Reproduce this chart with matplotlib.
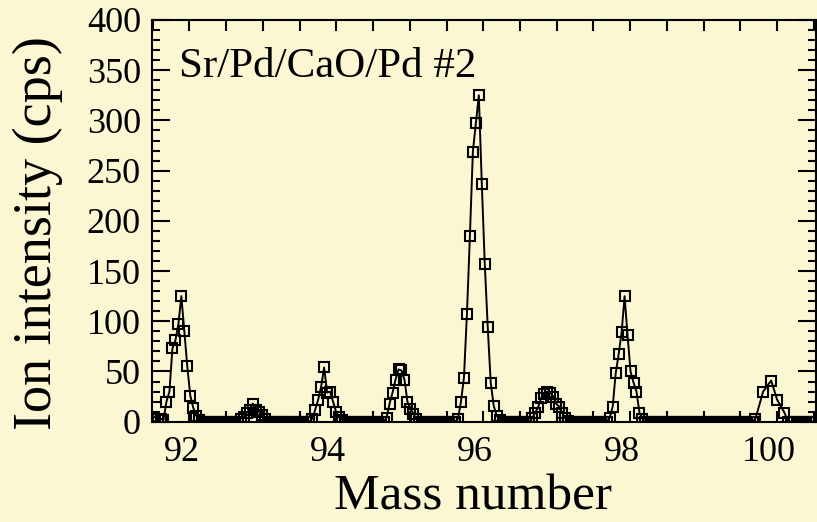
import numpy as np
import matplotlib
matplotlib.use("Agg")
import matplotlib.pyplot as plt
from matplotlib.ticker import MultipleLocator
from matplotlib.transforms import ScaledTranslation

# Mass scan: evenly stepped scan, then a coarser tail near 100
scan_start = 91.525
scan_step = 0.0405
scan_counts = [
    0, 3, 3, 2, 20, 30, 73, 81, 97, 125, 90, 55, 26, 14, 6, 2,
    0, 0, 0, 0, 0, 0, 0, 0, 0, 0, 0, 0, 0,
    3, 5, 9, 12, 18, 12, 10, 7, 3,
    0, 0, 0, 0, 0, 0, 0, 0, 0, 0, 0, 0, 0, 0, 0,
    3, 12, 22, 35, 54, 29, 30, 20, 10, 5, 2,
    0, 0, 0, 0, 0, 0, 0, 0, 0, 0, 0, 0, 0, 0,
    4, 18, 29, 42, 52, 51, 42, 20, 13, 8, 3,
    0, 0, 0, 0, 0, 0, 0, 0, 0, 0, 0, 0, 0,
    3, 20, 44, 107, 185, 269, 297, 325, 237, 157, 94, 39, 16, 6, 2,
    0, 0, 0, 0, 0, 0, 0, 0, 0, 0,
    4, 9, 15, 24, 28, 30, 29, 25, 18, 15, 9, 4, 1,
    0, 0, 0, 0, 0, 0, 0, 0, 0, 0, 0, 0, 0,
    4, 15, 48, 67, 89, 125, 86, 50, 39, 30, 9, 3,
    0, 0, 0, 0, 0, 0, 0, 0, 0, 0, 0, 0, 0, 0, 0, 0, 0, 0, 0, 0,
    0, 0, 0, 0, 0, 0, 0, 0, 0, 0, 0, 0, 0, 0, 0, 0, 0,
    3,
]
tail_mass = [99.81, 99.92, 100.00, 100.10, 100.15, 100.19, 100.23, 100.27,
             100.31, 100.35, 100.39, 100.43, 100.47, 100.51]
tail_counts = [30, 41, 22, 9, 0, 0, 0, 0, 0, 0, 0, 0, 0, 0]

sample_label = "Sr/Pd/CaO/Pd #2"

bg = "#fbf7d2"
plt.rcParams["font.family"] = ["Liberation Serif", "DejaVu Serif"]

scan_mass = scan_start + scan_step * np.arange(len(scan_counts))
mass = np.concatenate([scan_mass, tail_mass])
counts = np.concatenate([scan_counts, tail_counts])

fig = plt.figure(figsize=(8.17, 5.22), dpi=100, facecolor=bg)
ax = fig.add_axes([152 / 817, 1 - 421.7 / 522, 664 / 817, 401.7 / 522])
ax.set_facecolor(bg)

ax.plot(mass, counts, "-s", color="k", lw=1.4, ms=7, mfc="none", mec="k", mew=1.5)

ax.set_xlim(91.49, 100.53)
ax.set_ylim(0, 400)

ax.xaxis.set_major_locator(MultipleLocator(2))
ax.xaxis.set_minor_locator(MultipleLocator(0.5))
ax.yaxis.set_major_locator(MultipleLocator(50))
ax.yaxis.set_minor_locator(MultipleLocator(10))

ax.tick_params(axis="x", which="both", direction="in", top=True, length=8, width=1.5,
               labelsize=26, pad=10)
ax.tick_params(axis="y", which="major", direction="in", right=True, length=13, width=1.5,
               labelsize=26, pad=8)
ax.tick_params(axis="y", which="minor", direction="in", right=True, length=6, width=1.5)
for sp in ax.spines.values():
    sp.set_linewidth(1.5)

ax.set_xlabel("Mass number", fontsize=37)
ax.set_ylabel("Ion intensity (cps)", fontsize=39)
ax.xaxis.set_label_coords(0.484, -0.13)
ax.yaxis.set_label_coords(-0.134, 0.47)

ax.text(0.04, 0.858, sample_label, transform=ax.transAxes, fontsize=31, va="baseline", ha="left")

# labels in the source sit a little left of their ticks
fig.canvas.draw()
shift = ScaledTranslation(-8 / 100, 0, fig.dpi_scale_trans)
for lab in ax.get_xticklabels():
    lab.set_transform(lab.get_transform() + shift)

fig.savefig("out.png", dpi=100, facecolor=bg)
